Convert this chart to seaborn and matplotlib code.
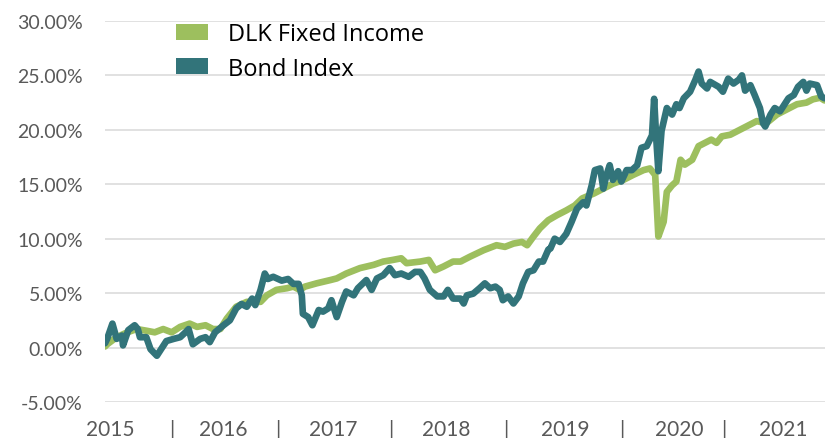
import pandas as pd
import matplotlib
matplotlib.use("Agg")
import matplotlib.pyplot as plt
from matplotlib.patches import Patch
from matplotlib.ticker import FuncFormatter
import seaborn as sns

# values (decimal year, cumulative return in %)
fixed_income_years = [
    2015.00, 2015.02, 2015.11, 2015.21, 2015.30, 2015.39, 2015.47, 2015.55, 2015.63,
    2015.71, 2015.80, 2015.87, 2015.95, 2016.02, 2016.09, 2016.15, 2016.24, 2016.34,
    2016.47, 2016.53, 2016.62, 2016.72, 2016.78, 2016.84, 2016.89, 2017.00, 2017.13,
    2017.19, 2017.28, 2017.41, 2017.54, 2017.63, 2017.72, 2017.80, 2017.85, 2017.98,
    2018.06, 2018.12, 2018.20, 2018.29, 2018.36, 2018.45, 2018.58, 2018.70, 2018.78,
    2018.86, 2018.94, 2018.99, 2019.05, 2019.11, 2019.19, 2019.27, 2019.36, 2019.44,
    2019.51, 2019.62, 2019.71, 2019.80, 2019.90, 2019.99, 2020.09, 2020.15, 2020.20,
    2020.23, 2020.28, 2020.31, 2020.36, 2020.40, 2020.44, 2020.48, 2020.55, 2020.61,
    2020.67, 2020.73, 2020.78, 2020.83, 2020.91, 2021.00, 2021.10, 2021.16, 2021.25,
    2021.35, 2021.44, 2021.54, 2021.63, 2021.69, 2021.76, 2021.80,
]
fixed_income = [
    0.1, 0.3, 0.95, 1.4, 1.7, 1.55, 1.4, 1.7, 1.4,
    1.9, 2.2, 1.9, 2.05, 1.7, 1.7, 2.65, 3.75, 4.2,
    4.2, 4.8, 5.3, 5.45, 5.6, 5.3, 5.6, 5.9, 6.2,
    6.35, 6.8, 7.3, 7.6, 7.9, 8.05, 8.2, 7.75, 7.9,
    8.05, 7.1, 7.45, 7.9, 7.9, 8.35, 8.95, 9.4, 9.25,
    9.55, 9.7, 9.4, 10.2, 10.95, 11.7, 12.15, 12.6, 13.05,
    13.7, 14.15, 14.6, 15.05, 15.4, 15.85, 16.3, 16.45, 15.85,
    10.2, 11.55, 14.3, 14.9, 15.25, 17.25, 16.8, 17.25, 18.5,
    18.8, 19.1, 18.8, 19.4, 19.55, 20.0, 20.5, 20.8, 20.6,
    21.4, 21.85, 22.35, 22.5, 22.8, 22.95, 22.7,
]

bond_index_years = [
    2015.00, 2015.02, 2015.07, 2015.11, 2015.16, 2015.17, 2015.22, 2015.28, 2015.31,
    2015.33, 2015.39, 2015.43, 2015.46, 2015.49, 2015.54, 2015.58, 2015.65, 2015.71,
    2015.76, 2015.79, 2015.83, 2015.90, 2015.95, 2015.99, 2016.04, 2016.12, 2016.18,
    2016.24, 2016.29, 2016.34, 2016.39, 2016.42, 2016.47, 2016.51, 2016.54, 2016.59,
    2016.67, 2016.73, 2016.78, 2016.83, 2016.86, 2016.87, 2016.92, 2016.96, 2017.02,
    2017.06, 2017.11, 2017.14, 2017.19, 2017.24, 2017.28, 2017.35, 2017.39, 2017.47,
    2017.52, 2017.57, 2017.63, 2017.69, 2017.74, 2017.80, 2017.87, 2017.93, 2017.98,
    2018.02, 2018.07, 2018.14, 2018.20, 2018.24, 2018.29, 2018.36, 2018.39, 2018.42,
    2018.48, 2018.54, 2018.59, 2018.64, 2018.69, 2018.73, 2018.76, 2018.81, 2018.86,
    2018.91, 2018.95, 2019.00, 2019.05, 2019.10, 2019.14, 2019.19, 2019.21, 2019.25,
    2019.30, 2019.36, 2019.41, 2019.46, 2019.52, 2019.55, 2019.60, 2019.63, 2019.68,
    2019.71, 2019.74, 2019.77, 2019.80, 2019.85, 2019.88, 2019.93, 2019.98, 2020.03,
    2020.07, 2020.12, 2020.17, 2020.19, 2020.21, 2020.23, 2020.26, 2020.31, 2020.36,
    2020.40, 2020.43, 2020.47, 2020.53, 2020.58, 2020.61, 2020.64, 2020.69, 2020.72,
    2020.80, 2020.84, 2020.89, 2020.94, 2020.99, 2021.02, 2021.05, 2021.10, 2021.14,
    2021.19, 2021.22, 2021.24, 2021.29, 2021.33, 2021.38, 2021.41, 2021.46, 2021.51,
    2021.55, 2021.60, 2021.63, 2021.66, 2021.73, 2021.77, 2021.80,
]
bond_index = [
    0.4, 0.8, 2.2, 0.8, 1.1, 0.2, 1.6, 2.05, 1.7,
    0.95, 0.95, -0.15, -0.45, -0.75, 0.0, 0.6, 0.8, 0.95,
    1.4, 1.7, 0.3, 0.8, 0.95, 0.5, 1.4, 2.05, 2.5,
    3.6, 4.0, 3.75, 4.5, 3.9, 5.3, 6.8, 6.3, 6.5,
    6.15, 6.3, 5.85, 5.85, 4.8, 3.1, 2.8, 2.05, 3.45,
    3.3, 3.6, 4.35, 2.8, 4.2, 5.15, 4.8, 5.45, 6.2,
    5.3, 6.35, 6.65, 7.3, 6.65, 6.8, 6.5, 6.95, 6.95,
    6.35, 5.3, 4.7, 4.7, 5.3, 4.5, 4.5, 4.05, 4.8,
    4.95, 5.45, 5.9, 5.45, 5.6, 5.3, 4.35, 4.7, 4.05,
    4.7, 5.9, 6.95, 7.1, 7.9, 7.9, 9.0, 9.1, 10.0,
    9.7, 10.45, 11.55, 12.75, 13.35, 13.05, 14.9, 16.3, 16.45,
    14.6, 15.85, 16.75, 15.4, 16.2, 15.25, 16.3, 16.3, 16.75,
    18.35, 18.5, 19.5, 22.85, 19.2, 16.2, 19.9, 22.0, 21.4,
    22.35, 22.0, 22.9, 23.5, 24.6, 25.35, 24.25, 23.8, 24.4,
    23.95, 23.5, 24.7, 24.25, 24.6, 25.0, 23.6, 24.1, 23.2,
    22.0, 20.6, 20.3, 21.4, 22.0, 21.7, 22.15, 22.9, 23.2,
    23.95, 24.4, 23.6, 24.25, 24.1, 23.05, 22.9,
]

series_names = ["DLK Fixed Income", "Bond Index"]
series_colors = ["#9DBF5E", "#32747A"]

# x axis labels as shown under the chart (years separated by bars)
tick_positions = [2015.05, 2015.63, 2016.12, 2016.63, 2017.16, 2017.70, 2018.22,
                  2018.79, 2019.35, 2019.88, 2020.43, 2020.85, 2021.41]
tick_labels = ["2015", "|", "2016", "|", "2017", "|", "2018",
               "|", "2019", "|", "2020", "|", "2021"]
y_ticks = [-5, 0, 5, 10, 15, 20, 25, 30]


def build_frame() -> pd.DataFrame:
    fi = pd.DataFrame({"year": fixed_income_years, "value": fixed_income,
                       "series": series_names[0]})
    bi = pd.DataFrame({"year": bond_index_years, "value": bond_index,
                       "series": series_names[1]})
    return pd.concat([fi, bi], ignore_index=True)


def main() -> None:
    sns.set_theme(style="white")
    plt.rcParams["font.family"] = ["Lato", "DejaVu Sans"]

    df = build_frame()
    palette = dict(zip(series_names, series_colors))

    fig = plt.figure(figsize=(8.25, 4.39), dpi=100)
    ax = fig.add_axes([0.1273, 0.082, 0.8727, 0.868])

    sns.lineplot(data=df, x="year", y="value", hue="series", hue_order=series_names,
                 palette=palette, linewidth=4.8, estimator=None, legend=False, ax=ax)

    ax.set_xlim(2015.0, 2021.805)
    ax.set_ylim(-5, 30)
    ax.set_yticks(y_ticks)
    ax.yaxis.set_major_formatter(FuncFormatter(lambda v, _: f"{v:.2f}%"))
    ax.set_xticks(tick_positions)
    ax.set_xticklabels(tick_labels)
    ax.tick_params(axis="x", length=0, pad=12, labelsize=15, labelcolor="#595959")
    ax.tick_params(axis="y", length=0, pad=16, labelsize=14, labelcolor="#595959")
    ax.set_xlabel("")
    ax.set_ylabel("")

    ax.grid(axis="y", color="#D9D9D9", linewidth=1.1)
    ax.grid(axis="x", visible=False)
    ax.set_axisbelow(True)
    for spine in ax.spines.values():
        spine.set_visible(False)

    # Excel-style legend: square swatches, no frame
    handles = [Patch(facecolor=c, edgecolor="none") for c in series_colors]
    fig.legend(handles, series_names, loc="upper left",
               bbox_to_anchor=(0.2133, 0.947), frameon=False,
               prop={"family": ["Open Sans", "DejaVu Sans"], "size": 17},
               labelcolor="black",
               handlelength=1.36, handleheight=0.68, handletextpad=0.85,
               labelspacing=0.44, borderpad=0, borderaxespad=0)

    fig.savefig("out.png", dpi=100)


if __name__ == "__main__":
    main()
